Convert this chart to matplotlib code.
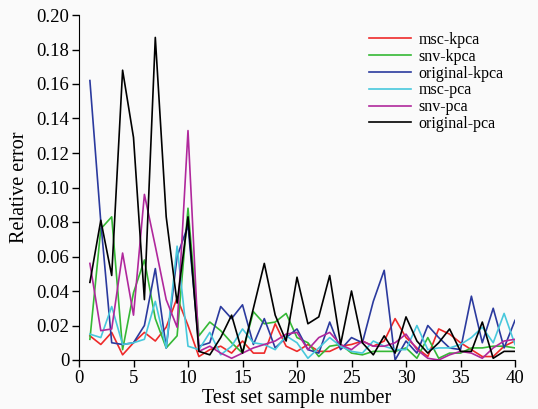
import matplotlib
matplotlib.use('Agg')
import matplotlib.pyplot as plt

plt.rcParams['font.family'] = ['Liberation Serif', 'DejaVu Serif']

samples = list(range(1, 41))

msc_kpca = [0.014, 0.009, 0.016, 0.003, 0.010, 0.016, 0.011, 0.019, 0.036, 0.020,
            0.002, 0.006, 0.008, 0.004, 0.011, 0.004, 0.004, 0.021, 0.008, 0.005,
            0.009, 0.005, 0.005, 0.008, 0.009, 0.011, 0.008, 0.011, 0.024, 0.013,
            0.007, 0.002, 0.018, 0.015, 0.010, 0.006, 0.002, 0.002, 0.008, 0.011]
snv_kpca = [0.012, 0.076, 0.083, 0.006, 0.039, 0.058, 0.024, 0.007, 0.014, 0.088,
            0.014, 0.022, 0.017, 0.010, 0.004, 0.028, 0.021, 0.022, 0.027, 0.013,
            0.010, 0.002, 0.008, 0.009, 0.004, 0.003, 0.005, 0.005, 0.005, 0.007,
            0.001, 0.013, 0.001, 0.004, 0.004, 0.007, 0.007, 0.008, 0.008, 0.007]
original_kpca = [0.162, 0.080, 0.010, 0.009, 0.010, 0.020, 0.053, 0.007, 0.060, 0.078,
                 0.008, 0.010, 0.031, 0.024, 0.032, 0.009, 0.024, 0.007, 0.013, 0.018,
                 0.006, 0.004, 0.022, 0.006, 0.013, 0.010, 0.034, 0.052, 0.000, 0.011,
                 0.004, 0.020, 0.013, 0.007, 0.006, 0.037, 0.010, 0.030, 0.007, 0.023]
msc_pca = [0.015, 0.013, 0.031, 0.009, 0.010, 0.012, 0.034, 0.007, 0.066, 0.008,
           0.006, 0.016, 0.003, 0.008, 0.018, 0.010, 0.009, 0.006, 0.014, 0.010,
           0.001, 0.007, 0.013, 0.008, 0.005, 0.004, 0.011, 0.008, 0.006, 0.006,
           0.020, 0.006, 0.007, 0.007, 0.009, 0.013, 0.019, 0.010, 0.027, 0.009]
snv_pca = [0.056, 0.017, 0.018, 0.062, 0.026, 0.096, 0.066, 0.035, 0.019, 0.133,
           0.005, 0.008, 0.004, 0.001, 0.004, 0.007, 0.009, 0.011, 0.015, 0.016,
           0.006, 0.013, 0.016, 0.009, 0.006, 0.011, 0.008, 0.008, 0.010, 0.015,
           0.006, 0.001, 0.000, 0.003, 0.005, 0.004, 0.001, 0.007, 0.011, 0.012]
original_pca = [0.045, 0.081, 0.049, 0.168, 0.129, 0.035, 0.187, 0.083, 0.033, 0.083,
                0.005, 0.003, 0.013, 0.026, 0.004, 0.030, 0.056, 0.026, 0.011, 0.048,
                0.021, 0.025, 0.049, 0.009, 0.040, 0.010, 0.003, 0.014, 0.004, 0.025,
                0.011, 0.004, 0.010, 0.018, 0.005, 0.005, 0.022, 0.001, 0.005, 0.005]

labels = ['msc-kpca', 'snv-kpca', 'original-kpca', 'msc-pca', 'snv-pca', 'original-pca']
colors = ['#ee2a2a', '#35b835', '#2b3a9e', '#48c8dc', '#b0289c', '#000000']
series = [msc_kpca, snv_kpca, original_kpca, msc_pca, snv_pca, original_pca]

fig = plt.figure(figsize=(5.38, 4.09), dpi=100, facecolor='#fafafa')
ax = fig.add_axes([79/538, 1 - 360/409, (515 - 79)/538, (360 - 15)/409])
ax.set_facecolor('#fafafa')

for vals, lab, col in zip(series, labels, colors):
    ax.plot(samples, vals, color=col, lw=1.2, label=lab)

ax.set_xlim(0, 40)
ax.set_ylim(0, 0.20)
ax.set_xticks(range(0, 41, 5))
yt = [i * 0.02 for i in range(11)]
ax.set_yticks(yt)
ax.set_yticklabels(['0'] + ['%.2f' % v for v in yt[1:]])
ax.tick_params(direction='out', length=5, width=1, labelsize=13.5, pad=2)
ax.spines['top'].set_visible(False)
ax.spines['right'].set_visible(False)
ax.set_xlabel('Test set sample number', fontsize=14.5, labelpad=2)
ax.set_ylabel('Relative error', fontsize=14.5, labelpad=5)

# legend sits top right, no frame
ax.legend(loc='upper left', bbox_to_anchor=(369/538, 1 - 32/409),
          bbox_transform=fig.transFigure, frameon=False, fontsize=11.5,
          handlelength=2.6, handletextpad=0.5, labelspacing=0.05,
          borderpad=0, borderaxespad=0)

fig.savefig('out.png', dpi=100, facecolor=fig.get_facecolor())
